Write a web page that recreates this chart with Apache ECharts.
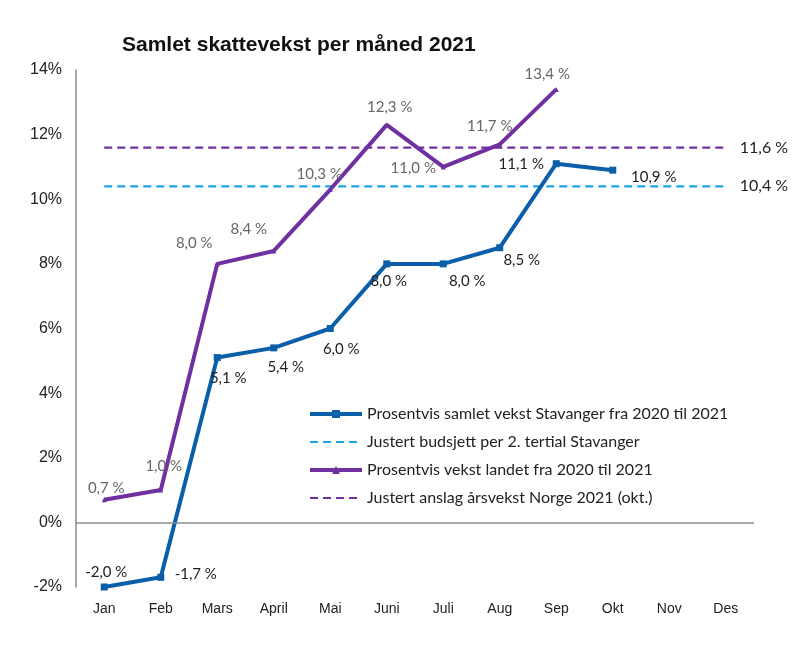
<!DOCTYPE html>
<html>
<head>
<meta charset="utf-8">
<script src="https://cdn.jsdelivr.net/npm/echarts@6/dist/echarts.min.js"></script>
<style>
  html, body { margin: 0; padding: 0; background: #fff; }
  #chart { width: 800px; height: 646px; }
</style>
</head>
<body>
<div id="chart"></div>
<script>
// måneder
const months = ['Jan', 'Feb', 'Mars', 'April', 'Mai', 'Juni', 'Juli', 'Aug', 'Sep', 'Okt', 'Nov', 'Des'];
// Stavanger vekst (%)
const stavanger = [-2.0, -1.7, 5.1, 5.4, 6.0, 8.0, 8.0, 8.5, 11.1, 10.9];
// landet vekst (%)
const landet = [0.7, 1.0, 8.0, 8.4, 10.3, 12.3, 11.0, 11.7, 13.4];
// justert budsjett / anslag
const budsjettStavanger = 10.4;
const anslagNorge = 11.6;
const yTicks = [-2, 0, 2, 4, 6, 8, 10, 12, 14];

// etikettplassering (piksler fra punktet)
const stavangerLabelOff = [[2,-15],[35,-3],[11,21],[12,19],[11,21],[2,17],[24,17],[22,12],[-35,0],[41,7]];
const landetLabelOff = [[2,-12],[3,-24],[-23,-21],[-25,-22],[-11,-15],[3,-18],[-30,1],[-10,-18],[-9,-15]];

const fmt = v => v.toFixed(1).replace('.', ',') + ' %';
const LABEL_FONT = 'Lato, "Open Sans", sans-serif';

function withLabels(values, offs, color) {
  return values.map((v, i) => ({
    value: v,
    label: {
      show: true,
      position: 'inside',
      offset: offs[i],
      formatter: fmt(v),
      color: color,
      fontSize: 15,
      fontFamily: LABEL_FONT
    }
  }));
}

const option = {
  animation: false,
  title: {
    text: 'Samlet skattevekst per måned 2021',
    left: 117,
    top: 30,
    textStyle: { fontFamily: '"Liberation Sans", Arial, sans-serif', fontSize: 21, fontWeight: 'bold', color: '#111' }
  },
  legend: {
    orient: 'vertical',
    left: 303,
    top: 401,
    itemWidth: 52,
    itemHeight: 10,
    itemGap: 12,
    textStyle: { fontFamily: LABEL_FONT, fontSize: 16, color: '#222', lineHeight: 15 },
    data: [
      { name: 'Prosentvis samlet vekst Stavanger fra 2020 til 2021', lineStyle: { width: 4 } },
      { name: 'Justert budsjett per 2. tertial Stavanger', itemStyle: { opacity: 0 }, lineStyle: { width: 2.2 } },
      { name: 'Prosentvis vekst landet fra 2020 til 2021', lineStyle: { width: 4 } },
      { name: 'Justert anslag årsvekst Norge 2021 (okt.)', itemStyle: { opacity: 0 }, lineStyle: { width: 2.2 } }
    ]
  },
  grid: { left: 76, right: 46, top: 70, bottom: 59 },
  xAxis: {
    type: 'category',
    data: months,
    boundaryGap: true,
    axisLine: { show: false },
    axisTick: { show: false },
    axisLabel: { color: '#222', fontSize: 14, margin: 15, fontFamily: '"Liberation Sans", Arial, sans-serif' }
  },
  yAxis: {
    type: 'value',
    min: -2,
    max: 14,
    interval: 2,
    splitLine: { show: false },
    axisLine: { show: true, lineStyle: { color: '#8c8c8c', width: 1.5 } },
    axisTick: { show: false },
    axisLabel: {
      color: '#222', fontSize: 16, margin: 14,
      fontFamily: '"Liberation Sans", Arial, sans-serif',
      formatter: v => yTicks.includes(v) ? v + '%' : ''
    }
  },
  series: [
    {
      name: 'Prosentvis samlet vekst Stavanger fra 2020 til 2021',
      type: 'line',
      data: withLabels(stavanger, stavangerLabelOff, '#222'),
      symbol: 'rect',
      symbolSize: 7,
      color: '#0a5fa8',
      lineStyle: { width: 4, color: '#0a5fa8' },
      itemStyle: { color: '#0a5fa8' },
      z: 4,
      markLine: {
        silent: true,
        symbol: 'none',
        label: { show: false },
        lineStyle: { color: '#8c8c8c', type: 'solid', width: 1.5 },
        data: [{ yAxis: 0 }]
      }
    },
    {
      name: 'Justert budsjett per 2. tertial Stavanger',
      type: 'line',
      data: months.map(() => budsjettStavanger),
      showSymbol: false,
      symbol: 'none',
      color: '#1aa3e6',
      lineStyle: { width: 2.2, type: [8, 5], color: '#1aa3e6' },
      endLabel: {
        show: true,
        distance: 14,
        formatter: p => fmt(p.value),
        color: '#222', fontSize: 16, fontFamily: LABEL_FONT
      },
      z: 2
    },
    {
      name: 'Prosentvis vekst landet fra 2020 til 2021',
      type: 'line',
      data: withLabels(landet, landetLabelOff, '#666'),
      symbol: 'triangle',
      symbolSize: 5,
      color: '#7030a0',
      lineStyle: { width: 4, color: '#7030a0' },
      itemStyle: { color: '#7030a0' },
      z: 3
    },
    {
      name: 'Justert anslag årsvekst Norge 2021 (okt.)',
      type: 'line',
      data: months.map(() => anslagNorge),
      showSymbol: false,
      symbol: 'none',
      color: '#7030a0',
      lineStyle: { width: 2.2, type: [8, 5], color: '#7030a0' },
      endLabel: {
        show: true,
        distance: 14,
        formatter: p => fmt(p.value),
        color: '#222', fontSize: 16, fontFamily: LABEL_FONT
      },
      z: 2
    }
  ]
};

const myChart = echarts.init(document.getElementById('chart'));
myChart.setOption(option);
window.addEventListener('resize', () => {
  myChart.resize();
});
</script>
</body>
</html>
